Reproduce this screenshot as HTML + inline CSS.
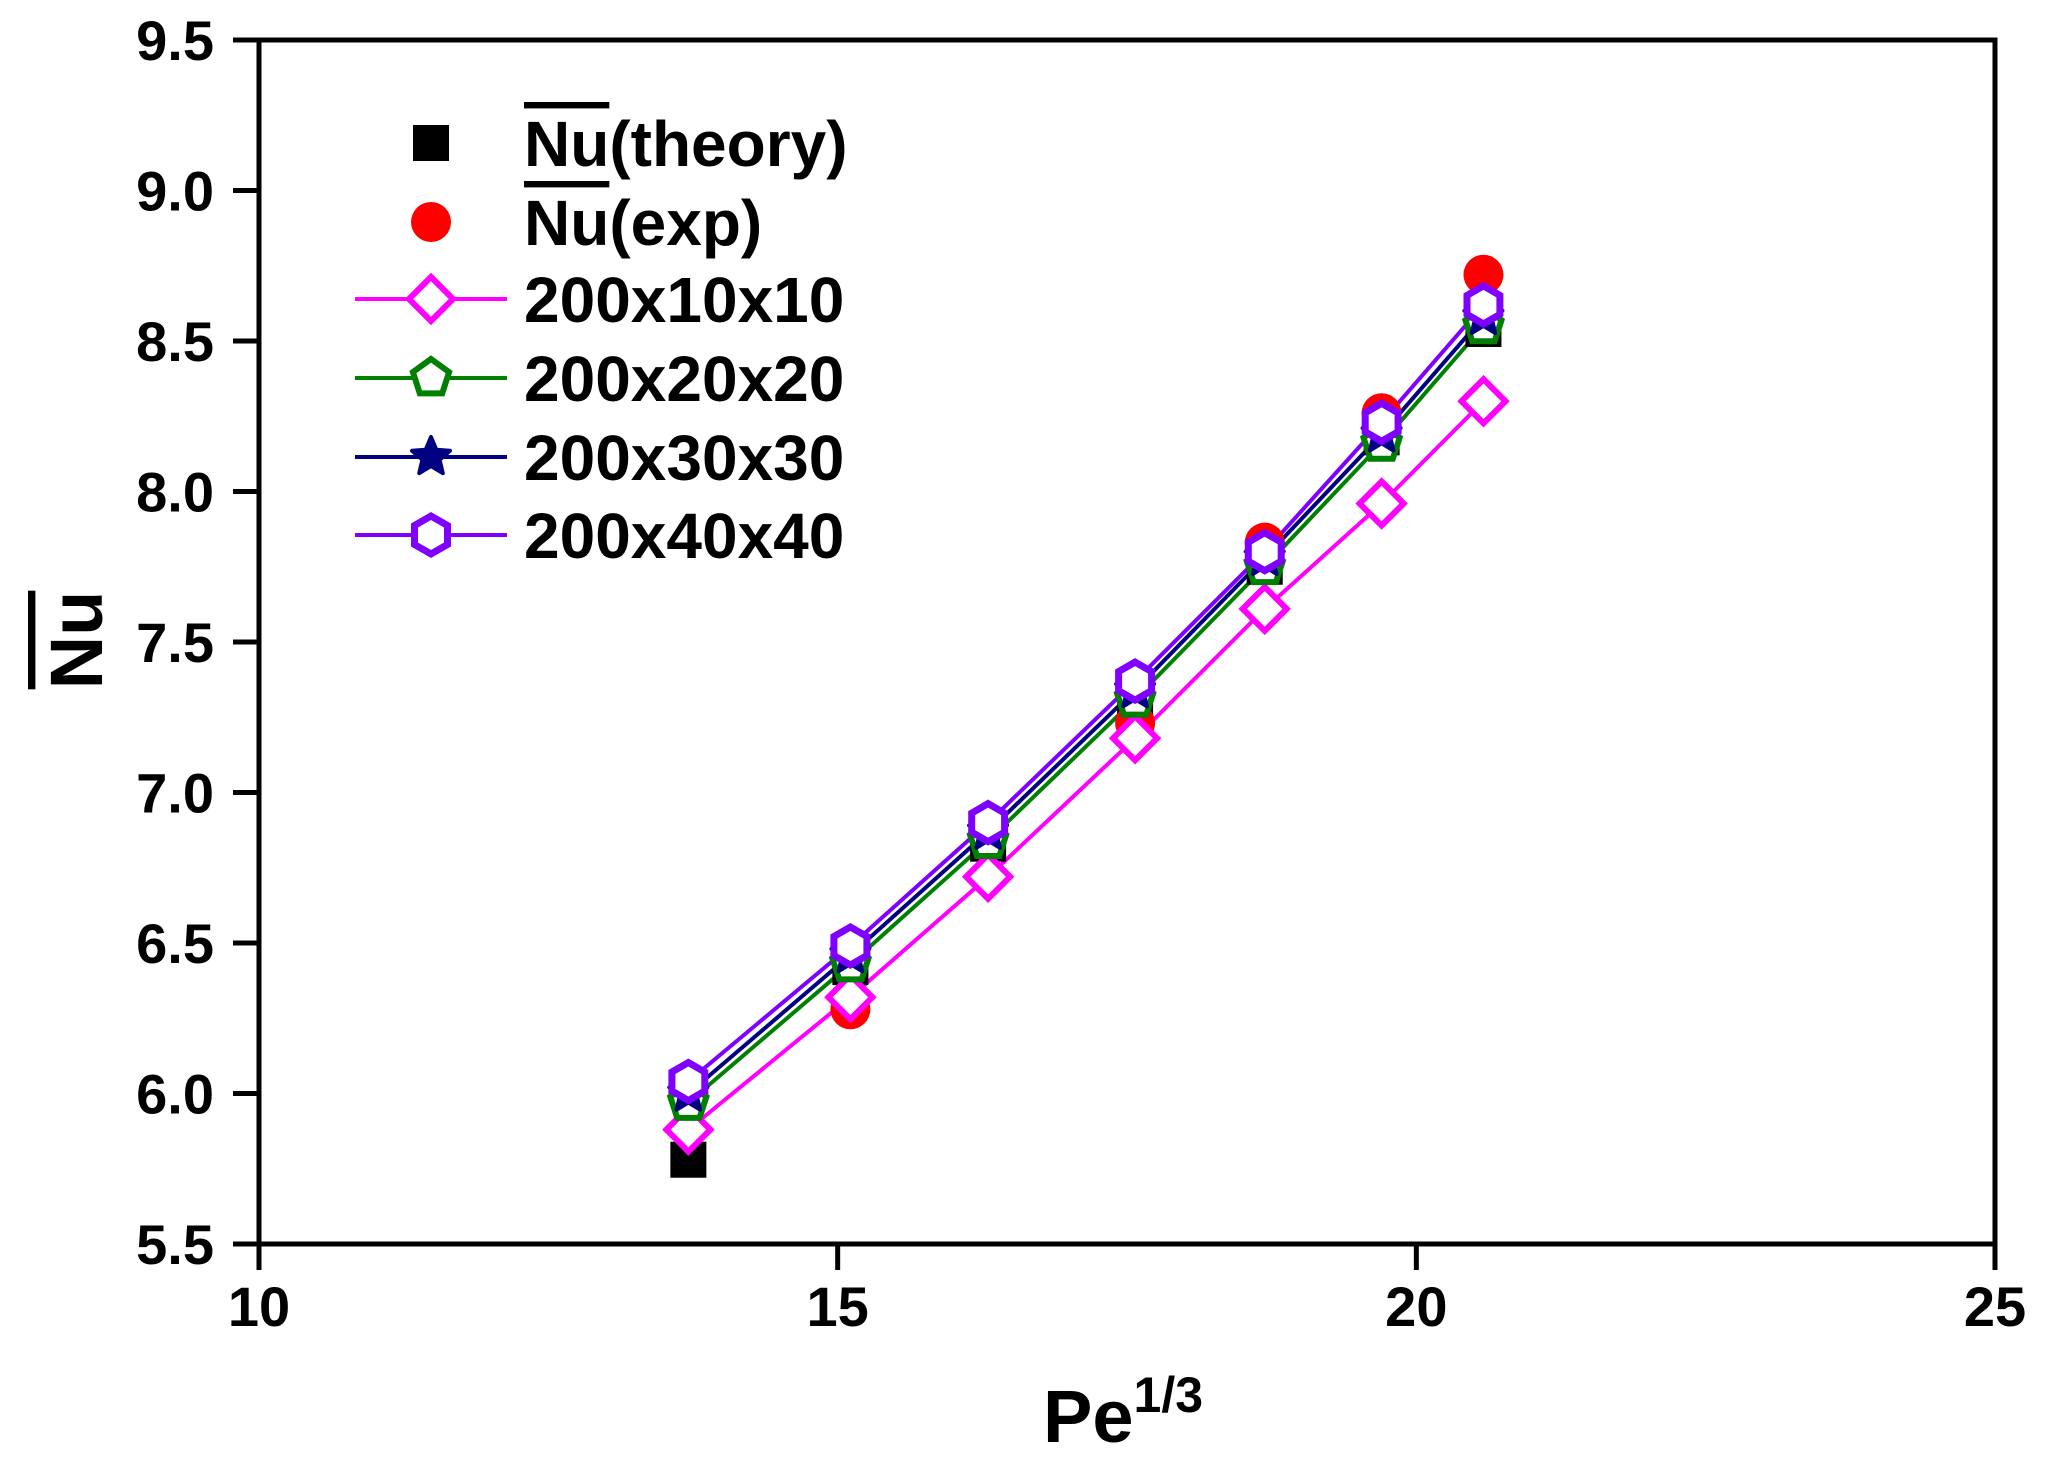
<!DOCTYPE html>
<html><head><meta charset="utf-8"><style>
html,body{margin:0;padding:0;background:#fff;}
svg{display:block;font-family:"Liberation Sans",Arial,sans-serif;font-weight:bold;}
</style></head><body>
<svg id="chart" width="2045" height="1461" viewBox="0 0 2045 1461" xmlns="http://www.w3.org/2000/svg">
<g id="plot"></g>
</svg>
<script>
const xValues = [13.71, 15.11, 16.30, 17.57, 18.69, 19.70, 20.58];
const theory = [5.78, 6.42, 6.83, 7.28, 7.75, 8.18, 8.54];
const expData = [6.00, 6.28, 6.86, 7.23, 7.83, 8.26, 8.72];
const mesh10 = [5.88, 6.32, 6.72, 7.18, 7.61, 7.96, 8.30];
const mesh20 = [5.97, 6.43, 6.84, 7.31, 7.75, 8.16, 8.55];
const mesh30 = [6.00, 6.46, 6.87, 7.34, 7.78, 8.19, 8.58];
const mesh40 = [6.04, 6.49, 6.90, 7.37, 7.80, 8.23, 8.62];
const xTicks = [10, 15, 20, 25];
const yTicks = [5.5, 6.0, 6.5, 7.0, 7.5, 8.0, 8.5, 9.0, 9.5];

const NS = "http://www.w3.org/2000/svg";
const L = 259, R = 1995, T = 40, B = 1244;
const xMin = 10, xMax = 25, yMin = 5.5, yMax = 9.5;
const sx = v => L + (v - xMin) / (xMax - xMin) * (R - L);
const sy = v => B - (v - yMin) / (yMax - yMin) * (B - T);
const g = document.getElementById('plot');
function mk(tag, attrs, parent) {
  const e = document.createElementNS(NS, tag);
  for (const k in attrs) e.setAttribute(k, attrs[k]);
  (parent || g).appendChild(e);
  return e;
}
function polyPts(cx, cy, r, n, rot) {
  const p = [];
  for (let i = 0; i < n; i++) {
    const a = rot + i * 2 * Math.PI / n;
    p.push((cx + r * Math.cos(a)).toFixed(1) + ',' + (cy + r * Math.sin(a)).toFixed(1));
  }
  return p.join(' ');
}
function starPts(cx, cy, ro, ri) {
  const p = [];
  for (let i = 0; i < 10; i++) {
    const a = -Math.PI / 2 + i * Math.PI / 5;
    const r = i % 2 ? ri : ro;
    p.push((cx + r * Math.cos(a)).toFixed(1) + ',' + (cy + r * Math.sin(a)).toFixed(1));
  }
  return p.join(' ');
}
function marker(type, cx, cy, color, parent) {
  if (type === 'square') return mk('rect', {x: cx - 18, y: cy - 18, width: 36, height: 36, fill: '#000'}, parent);
  if (type === 'circle') return mk('circle', {cx, cy, r: 20, fill: '#ff0000'}, parent);
  if (type === 'diamond') return mk('polygon', {points: polyPts(cx, cy, 22, 4, 0), fill: '#fff', stroke: color, 'stroke-width': 6}, parent);
  if (type === 'pentagon') return mk('polygon', {points: polyPts(cx, cy, 19, 5, -Math.PI / 2), fill: '#fff', stroke: color, 'stroke-width': 6}, parent);
  if (type === 'star') return mk('polygon', {points: starPts(cx, cy, 20, 9), fill: color, stroke: color, 'stroke-width': 4, 'stroke-linejoin': 'round'}, parent);
  if (type === 'hexagon') return mk('polygon', {points: polyPts(cx, cy, 19, 6, -Math.PI / 2), fill: '#fff', stroke: color, 'stroke-width': 7}, parent);
}

const frame = mk('rect', {x: L, y: T, width: R - L, height: B - T, fill: 'none', stroke: '#000', 'stroke-width': 5});



xTicks.forEach(v => {
  const t = mk('line', {x1: sx(v), x2: sx(v), y1: B, y2: B + 26, stroke: '#000', 'stroke-width': 5});
  
  
  const lb = mk('text', {x: sx(v), y: B + 82, 'text-anchor': 'middle', 'font-size': 56});
  lb.textContent = String(v);
  
  
});
yTicks.forEach(v => {
  const t = mk('line', {x1: L - 26, x2: L, y1: sy(v), y2: sy(v), stroke: '#000', 'stroke-width': 5});
  
  
  const lb = mk('text', {x: 214, y: sy(v) + 20, 'text-anchor': 'end', 'font-size': 56});
  lb.textContent = v.toFixed(1);
  
  
});

const xt = mk('text', {x: 1043, y: 1442, 'font-size': 74});
xt.textContent = 'Pe';
const sup = mk('tspan', {dy: -30, 'font-size': 50}, xt);
sup.textContent = '1/3';


const yt = mk('text', {x: 0, y: 0, 'font-size': 74, 'text-anchor': 'middle', transform: 'translate(102,640) rotate(-90)', 'text-decoration': 'overline'});
yt.textContent = 'Nu';



const series = [
  {name: 'series-200x40x40-line', data: mesh40, color: '#8000ff'},
  {name: 'series-200x30x30-line', data: mesh30, color: '#000080'},
  {name: 'series-200x20x20-line', data: mesh20, color: '#008000'},
  {name: 'series-200x10x10-line', data: mesh10, color: '#ff00ff'},
];
series.forEach(s => {
  const pl = mk('polyline', {points: xValues.map((x, i) => sx(x) + ',' + sy(s.data[i])).join(' '), fill: 'none', stroke: s.color, 'stroke-width': 4});
  
  
});
xValues.forEach((x, i) => {
  const a = marker('square', sx(x), sy(theory[i]));
  
  
  const b = marker('circle', sx(x), sy(expData[i]));
  
  
});
[
  {data: mesh10, color: '#ff00ff', m: 'diamond', n: 'point-200x10x10'},
  {data: mesh20, color: '#008000', m: 'pentagon', n: 'point-200x20x20'},
  {data: mesh30, color: '#000080', m: 'star', n: 'point-200x30x30'},
  {data: mesh40, color: '#8000ff', m: 'hexagon', n: 'point-200x40x40'},
].forEach(s => {
  xValues.forEach((x, i) => {
    const p = marker(s.m, sx(x), sy(s.data[i]), s.color);
    
    
  });
});

const leg = mk('g', {});


const entries = [
  {y: 143, m: 'square', color: '#000', line: false, label: 'Nu', suffix: '(theory)'},
  {y: 222, m: 'circle', color: '#f00', line: false, label: 'Nu', suffix: '(exp)'},
  {y: 299, m: 'diamond', color: '#ff00ff', line: true, label: '200x10x10'},
  {y: 378, m: 'pentagon', color: '#008000', line: true, label: '200x20x20'},
  {y: 457, m: 'star', color: '#000080', line: true, label: '200x30x30'},
  {y: 535, m: 'hexagon', color: '#8000ff', line: true, label: '200x40x40'},
];
entries.forEach(e => {
  const eg = mk('g', {}, leg);
  
  
  if (e.line) mk('line', {x1: 355, x2: 507, y1: e.y, y2: e.y, stroke: e.color, 'stroke-width': 4}, eg);
  marker(e.m, 431, e.y, e.color, eg);
  const t = mk('text', {x: 524, y: e.y + 23, 'font-size': 64}, eg);
  if (e.suffix) {
    const a = mk('tspan', {'text-decoration': 'overline'}, t);
    a.textContent = e.label;
    const b = mk('tspan', {}, t);
    b.textContent = e.suffix;
  } else {
    t.textContent = e.label;
  }
});
</script>
</body></html>
